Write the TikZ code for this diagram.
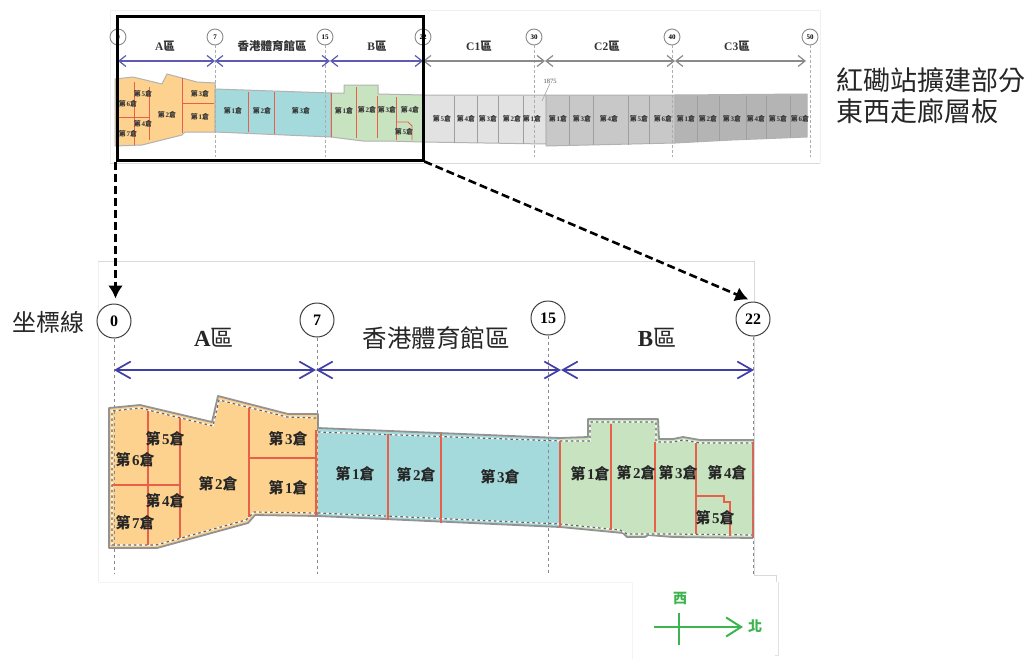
\documentclass[tikz,border=0pt]{standalone}
\usepackage{fontspec}
\setmainfont{Liberation Serif}
\newfontfamily\cj{Noto Sans CJK TC}
\newfontfamily\lat{Liberation Serif}
\usetikzlibrary{arrows.meta}
\definecolor{orangez}{HTML}{FDD28F}
\definecolor{tealz}{HTML}{A4DADB}
\definecolor{greenz}{HTML}{C8E3BF}
\definecolor{c1z}{HTML}{E2E2E2}
\definecolor{c2z}{HTML}{C8C8C8}
\definecolor{c3z}{HTML}{B4B4B4}
\definecolor{redl}{HTML}{E8604A}
\definecolor{bluel}{HTML}{3F3FA5}
\definecolor{greyl}{HTML}{8A8A8A}
\definecolor{greenl}{HTML}{3DB54F}
\definecolor{frame}{HTML}{D9D9D9}
\newcommand\fs[1]{\fontsize{#1}{#1}\selectfont}
\newcommand\cang[1]{{\cj\bfseries 第}\kern.1em{\lat\bfseries #1}{\cj\bfseries 倉}}
\tikzset{
  x=1pt,y=-1pt,
  zoneedge/.style={draw=gray!85,line width=1.8pt,line join=round},
  minizone/.style={draw=gray!60,line width=1pt,line join=round},
  insetbase/.style={draw=white,line width=1.2pt},
  inset/.style={draw=black!60,line width=1.2pt,dash pattern=on 2.5pt off 3pt},
  redmain/.style={draw=redl,line width=1.4pt},
  redmini/.style={draw=redl,line width=.8pt},
  divmini/.style={draw=gray!75,line width=.9pt},
  axismain/.style={draw=greyl,line width=.8pt,dashed},
  axismini/.style={draw=greyl!70,line width=.6pt,densely dashed},
  circmain/.style={circle,draw=black!75,line width=1pt,fill=white,minimum size=34pt,inner sep=0pt,font=\lat\bfseries\fs{16}},
  circmini/.style={circle,draw=greyl,line width=.9pt,fill=white,minimum size=16pt,inner sep=0pt,font=\lat\bfseries\fs{7}},
  spanmain/.style={draw=bluel,line width=1.7pt,{Straight Barb[length=15pt,width=17pt]}-{Straight Barb[length=15pt,width=17pt]}},
  spanmini/.style={draw=bluel!85,line width=1.2pt,{Straight Barb[length=7pt,width=11pt]}-{Straight Barb[length=7pt,width=11pt]}},
  spangrey/.style={draw=greyl,line width=1.2pt,{Straight Barb[length=7pt,width=11pt]}-{Straight Barb[length=7pt,width=11pt]}},
  lblmain/.style={inner sep=0pt,text=black!85,font=\fs{15}},
  lblmini/.style={inner sep=0pt,text=black!80,font=\fs{7}},
  headmain/.style={inner sep=0pt,text=black!85,font=\fs{23}},
  headmini/.style={inner sep=0pt,text=black!80,font=\fs{11.5}},
  bigtext/.style={inner sep=0pt,anchor=west,text=black!85},
  zoomarrow/.style={draw=black,line width=2.6pt,dash pattern=on 8pt off 4pt,-{Latex[length=13pt,width=15pt]}},
}
\begin{document}
\begin{tikzpicture}
\useasboundingbox (0,0) rectangle (1028,659);
\fill[white] (0,0) rectangle (1028,659);

% ---- light image frames
\draw[frame!40,line width=.7pt] (110,163) -- (110,10) -- (820,10) -- (820,163);
\draw[frame,line width=1pt] (110,163) -- (820,163);
\draw[frame!40,line width=.7pt] (98,582) -- (98,261);
\draw[frame,line width=1pt] (98,261) -- (754,261) -- (754,575) -- (776,575) -- (776,582);
\draw[frame!30,line width=.7pt] (98,582) -- (632,582) -- (632,659);
\draw[frame!80,line width=.7pt] (778,582) -- (778,655) -- (775,655);

% ---- upper plan: zones
\path[fill=orangez,minizone] (115,79) -- (133,77) -- (162,84) -- (167,74) -- (197,82) -- (215,83) -- (215,132) -- (185,132) -- (182,135) -- (142,145) -- (115,146) -- cycle;
\path[fill=tealz,minizone] (215,89) -- (331,93) -- (331,137) -- (215,132) -- cycle;
\path[fill=greenz,minizone] (331,93) -- (344,93) -- (344,85) -- (378,85) -- (378,94) -- (423,95) -- (423,142) -- (387,141) -- (363,141) -- (331,137) -- cycle;
\path[fill=c1z,minizone] (423,95) -- (546,95) -- (546,144) -- (423,142) -- cycle;
\path[fill=c2z,minizone] (546,95) -- (675,95) -- (675,143) -- (546,146) -- cycle;
\path[fill=c3z,minizone] (675,95) -- (807,94) -- (807,137) -- (732,140) -- (675,143) -- cycle;

% upper plan dividers
\foreach \x/\a/\b in {134/82/145,149/87/140,182/78/133,248/92/132,274/92/134,331/93/137,356/87/138,377/96/138,396/97/140}
  \draw[redmini] (\x,\a) -- (\x,\b);
\draw[redmini] (118,117) -- (149,117);
\draw[redmini] (182,103) -- (214,103);
\draw[redmini] (396,122) -- (408,122) -- (412,126) -- (412,140);
\foreach \x/\a/\b in {454/96/143,477/96/143,498/96/143,523/96/144,569/96/145,593/96/145,628/96/145,649/96/144,697/96/142,719/96/141,746/96/140,766/96/139,790/96/138}
  \draw[divmini] (\x,\a) -- (\x,\b);

% upper plan axes and spans
\foreach \n/\x in {0/118,7/215,15/325,22/423,30/534,40/672,50/810}{
  \node[circmini,name=t\n] at (\x,37) {\n};
  \coordinate (tb\n) at (\x,157);
  \draw[axismini] (t\n) -- (tb\n);
}
\coordinate (ts0) at (118,61);
\coordinate (ts7) at (215,61);
\coordinate (ts15) at (330,61);
\coordinate (ts22) at (423,61);
\coordinate (ts30) at (545,61);
\coordinate (ts40) at (675,61);
\coordinate (ts50) at (806,61);
\draw[spanmini] (ts0) -- (ts7);
\draw[spanmini] (ts7) -- (ts15);
\draw[spanmini] (ts15) -- (ts22);
\draw[spangrey] (ts22) -- (ts30);
\draw[spangrey] (ts30) -- (ts40);
\draw[spangrey] (ts40) -- (ts50);

\node[headmini,name=th1] at (165,46) {{\lat\bfseries A}{\cj\bfseries 區}};
\node[headmini,name=th2] at (272,46) {\cj\bfseries 香港體育館區};
\node[headmini,name=th3] at (377,46) {{\lat\bfseries B}{\cj\bfseries 區}};
\node[headmini,name=th4] at (479,46) {{\lat\bfseries C1}{\cj\bfseries 區}};
\node[headmini,name=th5] at (607,46) {{\lat\bfseries C2}{\cj\bfseries 區}};
\node[headmini,name=th6] at (737,46) {{\lat\bfseries C3}{\cj\bfseries 區}};

\node[inner sep=0pt,font=\lat\fs{6.5},text=black!70,name=dim] at (550,81) {1875};
\coordinate (dimend) at (542,101);
\draw[gray!70,line width=.6pt] (dim.south) -- (dimend);

\foreach \x/\y/\n [count=\i] in {143/94/5,128/104/6,143/124/4,128/134/7,167/115/2,200/94/3,200/117/1,233/111/1,262/111/2,301/111/3,344/111/1,367/110/2,387/110/3,410/110/4,404/132/5,442/119/5,466/119/4,488/119/3,512/119/2,532/119/1,558/119/1,582/119/3,609/119/4,639/119/5,663/119/6,686/119/1,708/119/2,732/119/3,756/119/4,778/119/5,800/119/6}
  \node[lblmini,name=tl\i] at (\x,\y) {\cang{\n}};

% ---- lower plan: zones
\path[fill=tealz] (318,428) -- (560,438) -- (560,527) -- (318,516) -- cycle;
\path[fill=greenz] (560,438) -- (588,437) -- (588,419) -- (658,419) -- (659,439) -- (673,439) -- (683,437) -- (700,440) -- (753,440) -- (753,538) -- (673,537) -- (648,535) -- (645,537) -- (627,537) -- (623,533) -- (560,527) -- cycle;
\path[fill=orangez] (109,408) -- (140,405) -- (212,422) -- (218,396) -- (288,414) -- (318,414) -- (318,516) -- (255,515) -- (248,523) -- (157,548) -- (109,548) -- cycle;

% outlines
\draw[zoneedge] (318,428) -- (560,438) -- (588,437) -- (588,419) -- (658,419) -- (659,439) -- (673,439) -- (683,437) -- (700,440) -- (753,440);
\draw[zoneedge] (318,516) -- (560,527) -- (623,533) -- (627,537) -- (645,537) -- (648,535) -- (673,537) -- (753,538);
\draw[zoneedge] (318,428) -- (318,414) -- (288,414) -- (218,396) -- (212,422) -- (140,405) -- (109,408) -- (109,548) -- (157,548) -- (248,523) -- (255,515) -- (318,516);

% dotted inner outlines
\foreach \sty in {insetbase,inset}{
\draw[\sty] (318,432) -- (560,441) -- (590,441) -- (590,422) -- (656,422) -- (656,442) -- (673,442) -- (683,440) -- (700,443) -- (753,443);
\draw[\sty] (318,513) -- (560,524) -- (620,530) -- (627,534) -- (645,534) -- (673,534) -- (753,535);
\draw[\sty] (316,418) -- (287,417) -- (219,400) -- (213,426) -- (140,408) -- (112,411) -- (112,545) -- (156,545) -- (246,520) -- (254,512) -- (316,513);
}

% lower plan dividers
\foreach \x/\a/\b in {148/411/545,180/418/538,249/408/517,316/430/516,388/434/520,441/434/523,560/441/527,611/424/530,655/442/532,696/443/534,753/442/538}
  \draw[redmain] (\x,\a) -- (\x,\b);
\draw[redmain] (112,485) -- (180,485);
\draw[redmain] (249,458) -- (316,458);
\draw[redmain] (696,496) -- (724,496) -- (724,502) -- (730,502) -- (730,536);

% lower plan axes and spans
\foreach \n/\x/\y in {0/114/321,7/317/320,15/548/318,22/753/319}{
  \node[circmain,name=m\n] at (\x,\y) {\n};
  \coordinate (mb\n) at (\x,574);
  \draw[axismain] (m\n) -- (mb\n);
}
\coordinate (ms0) at (114,370);
\coordinate (ms7) at (316,370);
\coordinate (ms15) at (561,370);
\coordinate (ms22) at (754,370);
\draw[spanmain] (ms0) -- (ms7);
\draw[spanmain] (ms7) -- (ms15);
\draw[spanmain] (ms15) -- (ms22);

\node[headmain,name=mh1] at (214,338) {{\lat\bfseries A}{\cj 區}};
\node[headmain,name=mh2,font=\fs{24.5}] at (436,338) {\cj 香港體育館區};
\node[headmain,name=mh3] at (657,338) {{\lat\bfseries B}{\cj 區}};

\foreach \x/\y/\n [count=\i] in {165/439/5,135/460/6,165/501/4,135/523/7,218/484/2,288/439/3,288/488/1,355/474/1,416/475/2,500/477/3,590/474/1,636/473/2,678/473/3,727/473/4,715/518/5}
  \node[lblmain,name=ml\i] at (\x,\y) {\cang{\n}};

% ---- side texts
\node[bigtext,font=\cj\fs{27},name=side1] at (836,80) {紅磡站擴建部分};
\node[bigtext,font=\cj\fs{27},name=side2] at (836,111) {東西走廊層板};
\node[bigtext,font=\cj\fs{24},name=axislabel] at (12,322) {坐標線};

% ---- zoom window and arrows
\node[draw=black,line width=3pt,minimum width=306pt,minimum height=144pt,inner sep=0pt,name=win] at (270,88) {};
\draw[zoomarrow,shorten >=5pt] (win.south west) -- (win.south west |- m0.north);
\draw[zoomarrow,shorten >=5pt] (win.south east) -- (m22.north);

% ---- compass
\coordinate (cw) at (654,627);
\coordinate (ce) at (743,627);
\coordinate (cn) at (679,613);
\coordinate (cs) at (679,645);
\draw[greenl,line width=2pt,-{Straight Barb[length=15pt,width=19pt]}] (cw) -- (ce);
\draw[greenl,line width=2pt] (cn) -- (cs);
\node[inner sep=0pt,font=\cj\bfseries\fs{14},text=greenl,name=west] at (680,598) {西};
\node[inner sep=0pt,font=\cj\bfseries\fs{14},text=greenl,name=north] at (755,626) {北};
\end{tikzpicture}
\end{document}
